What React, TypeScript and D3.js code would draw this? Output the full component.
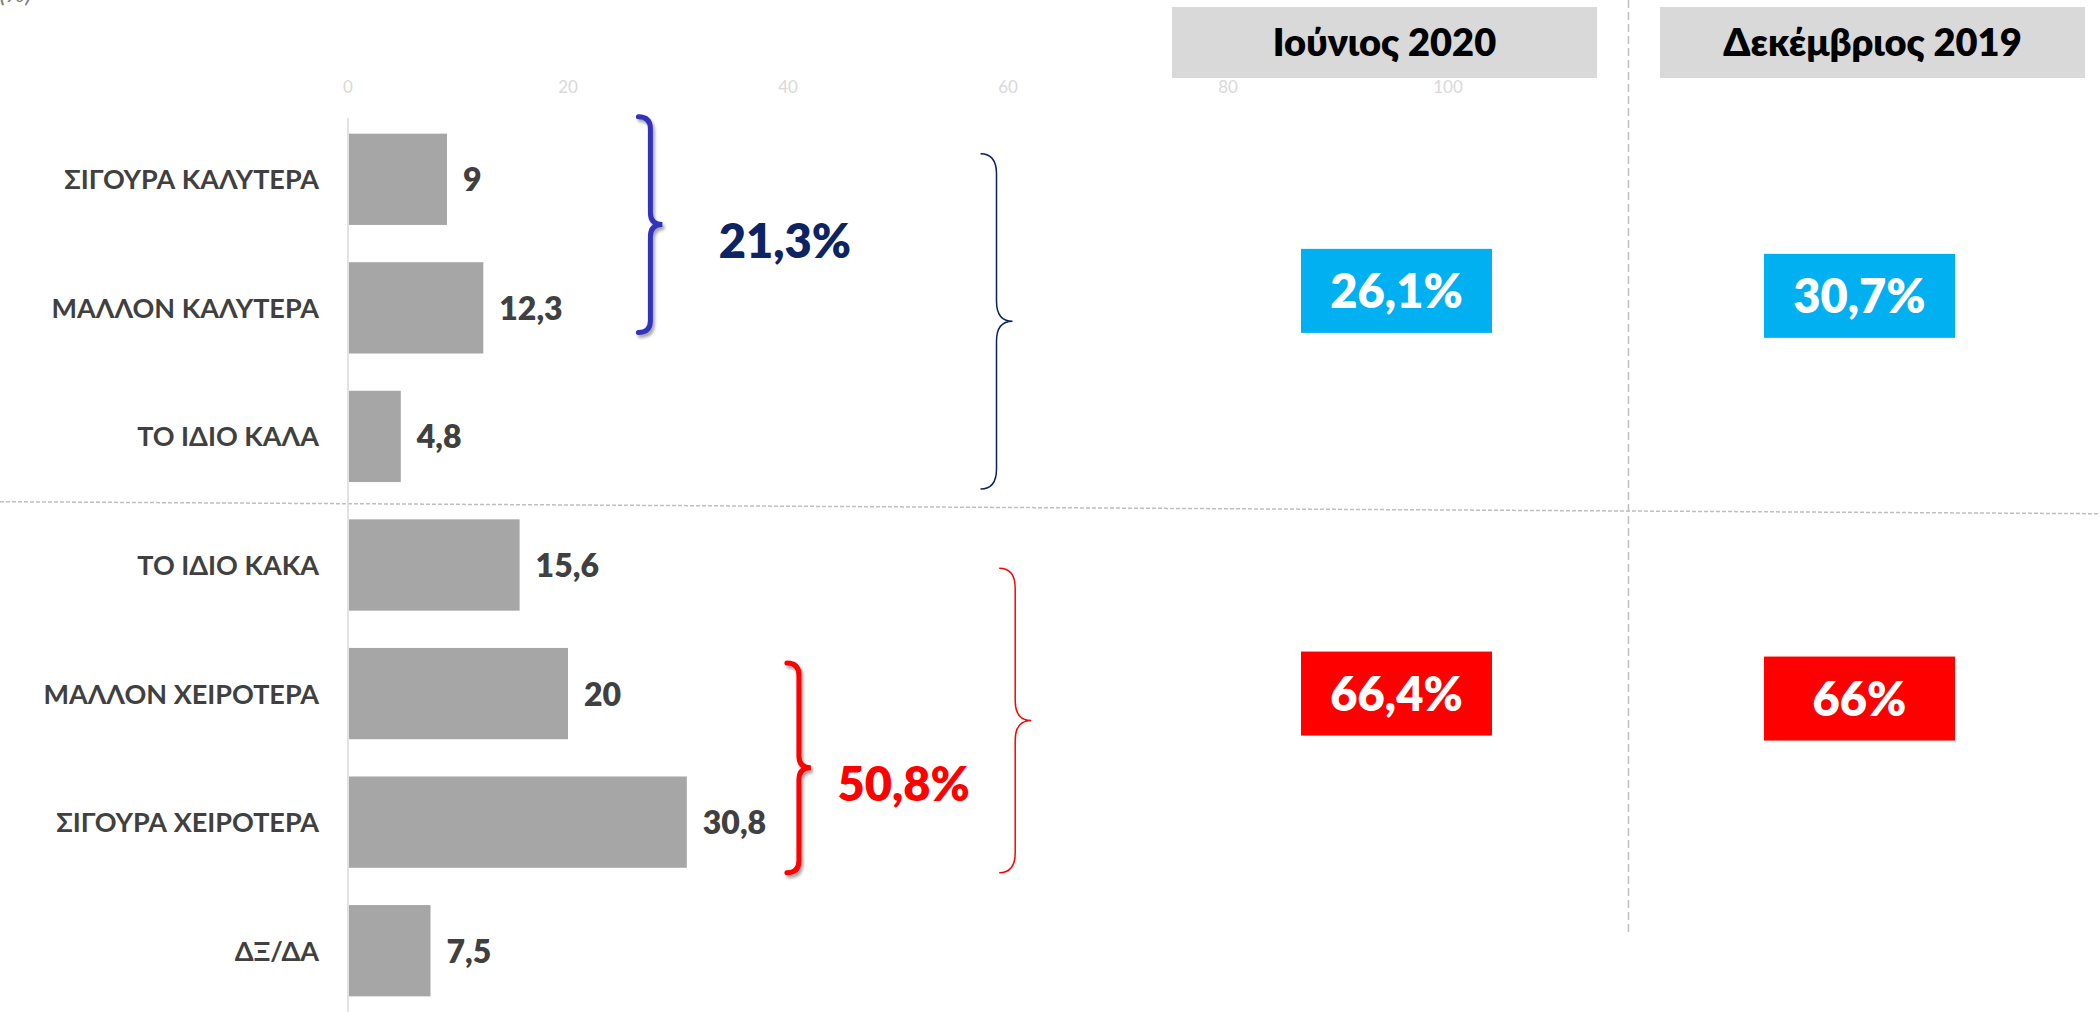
import React from 'react';
import { scaleBand, scaleLinear } from 'd3';

// survey answers, top to bottom
const categories = [
  'ΣΙΓΟΥΡΑ ΚΑΛΥΤΕΡΑ',
  'ΜΑΛΛΟΝ ΚΑΛΥΤΕΡΑ',
  'ΤΟ ΙΔΙΟ ΚΑΛΑ',
  'ΤΟ ΙΔΙΟ ΚΑΚΑ',
  'ΜΑΛΛΟΝ ΧΕΙΡΟΤΕΡΑ',
  'ΣΙΓΟΥΡΑ ΧΕΙΡΟΤΕΡΑ',
  'ΔΞ/ΔΑ',
];
const values = [9, 12.3, 4.8, 15.6, 20, 30.8, 7.5];
const xTicks = [0, 20, 40, 60, 80, 100];

// comparison columns on the right
const periods = ['Ιούνιος 2020', 'Δεκέμβριος 2019'];
const positiveTotals = [26.1, 30.7];
const negativeTotals = [66.4, 66];

// small braces with their sums, big braces around the halves
const innerTotals = [21.3, 50.8];
const innerFrom = [0, 4];
const innerTo = [1, 5];
const outerFrom = [0, 3];
const outerTo = [2, 5];

const W = 2100;
const H = 1012;
const FONT = 'Lato, "Open Sans", "Noto Sans", sans-serif';

const fmt = (v: number) => String(v).replace('.', ',');

// right-pointing curly brace, hooks on the left
const bracePath = (x0: number, y0: number, y1: number, w: number, r: number) => {
  const xs = x0 + w / 2;
  const xt = x0 + w;
  const m = (y0 + y1) / 2;
  return `M${x0},${y0} Q${xs},${y0} ${xs},${y0 + r} L${xs},${m - r} Q${xs},${m} ${xt},${m} ` +
    `Q${xs},${m} ${xs},${m + r} L${xs},${y1 - r} Q${xs},${y1} ${x0},${y1}`;
};

export default function App() {
  const x = scaleLinear().domain([0, 100]).range([348, 1448]);
  const y = scaleBand<string>()
    .domain(categories)
    .range([115, 1015])
    .paddingInner(0.29)
    .paddingOuter(0.145);
  const bw = y.bandwidth();
  const yTop = (i: number) => y(categories[i]) as number;
  const yBot = (i: number) => (y(categories[i]) as number) + bw;

  const col = scaleBand<string>().domain(periods).range([1172, 2085]).paddingInner(0.129);
  const cw = col.bandwidth();

  // annotation placement (axis units / px offsets)
  const innerX = [26.4, 39.9];
  const innerPad = [[-17, -21], [15, 5]];
  const innerColor = ['#3333bb', '#ff0000'];
  const innerText = ['#0d2463', '#ff0000'];
  const innerLabelX = [33.7, 44.5];
  const outerX = [57.5, 59.2];
  const outerPad = [[20, 7], [49, 5]];
  const outerColor = ['#0d1f5c', '#ff0000'];

  const sepY = (yBot(2) + yTop(3)) / 2;
  const boxW = 191;
  const boxH = 84;
  const boxDx = [12, -13];
  const boxDy = [0, 5];
  const posMid = (yTop(0) + yBot(2)) / 2 - 17;
  const negMid = (yTop(3) + yBot(5)) / 2;

  return (
    <svg
      width={W}
      height={H}
      style={{ position: 'absolute', left: 0, top: 0, display: 'block', background: '#fff' }}
      fontFamily={FONT}
    >
      <defs>
        <filter id="shadow" x="-50%" y="-10%" width="200%" height="120%">
          <feDropShadow dx="2" dy="3" stdDeviation="1.5" floodColor="#000" floodOpacity="0.35" />
        </filter>
      </defs>

      {/* clipped leftover from the slide title */}
      <text x={32} y={2} textAnchor="end" fontSize={26} fill="#7f7f7f" fontStyle="italic">(%)</text>

      {/* separators */}
      <line x1={0} y1={sepY + 1} x2={W} y2={sepY + 13} stroke="#bfbfbf" strokeWidth={1.5} strokeDasharray="4,2" />
      <line
        x1={col(periods[1])! - (col.step() - cw) / 2}
        x2={col(periods[1])! - (col.step() - cw) / 2}
        y1={0}
        y2={935}
        stroke="#bfbfbf"
        strokeWidth={1.5}
        strokeDasharray="8,4"
      />

      {/* x axis tick labels */}
      {xTicks.map((t) => (
        <text key={t} x={x(t)} y={93} textAnchor="middle" fontSize={17} fill="#d9d9d9">
          {t}
        </text>
      ))}

      {/* headers */}
      {periods.map((p) => (
        <g key={p}>
          <rect x={col(p)} y={7} width={cw} height={71} fill="#d9d9d9" />
          <text x={col(p)! + cw / 2} y={56} textAnchor="middle" fontSize={38} fontWeight={800} fill="#000">
            {p}
          </text>
        </g>
      ))}

      {/* bars */}
      <line x1={x(0)} x2={x(0)} y1={118} y2={H} stroke="#d9d9d9" strokeWidth={1.5} />
      {categories.map((c, i) => (
        <g key={c}>
          <rect x={x(0) + 1} y={y(c)} width={x(values[i]) - x(0) - 1} height={bw} fill="#a6a6a6" />
          <text x={319} y={y(c)! + bw / 2 + 10} textAnchor="end" fontSize={27} fontWeight={700} fill="#404040">
            {c}
          </text>
          <text x={x(values[i]) + 16} y={y(c)! + bw / 2 + 12} fontSize={32} fontWeight={800} fill="#404040">
            {fmt(values[i])}
          </text>
        </g>
      ))}

      {/* inner braces + totals */}
      {innerTotals.map((v, i) => {
        const y0 = yTop(innerFrom[i]) + innerPad[i][0];
        const y1 = yBot(innerTo[i]) + innerPad[i][1];
        return (
          <g key={'in' + i}>
            <path
              d={bracePath(x(innerX[i]), y0, y1, 24, 12)}
              fill="none"
              stroke={innerColor[i]}
              strokeWidth={5}
              strokeLinecap="round"
              filter="url(#shadow)"
            />
            <text x={x(innerLabelX[i])} y={(y0 + y1) / 2 + 33} fontSize={47} fontWeight={800} fill={innerText[i]}>
              {fmt(v)}%
            </text>
          </g>
        );
      })}

      {/* outer braces */}
      {outerFrom.map((f, i) => (
        <path
          key={'out' + i}
          d={bracePath(x(outerX[i]), yTop(f) + outerPad[i][0], yBot(outerTo[i]) + outerPad[i][1], 32, 20)}
          fill="none"
          stroke={outerColor[i]}
          strokeWidth={1.5}
        />
      ))}

      {/* period summary boxes */}
      {periods.map((p, i) => {
        const cx = col(p)! + cw / 2 + boxDx[i];
        return (
          <g key={'box' + p}>
            <rect x={cx - boxW / 2} y={posMid + boxDy[i] - boxH / 2} width={boxW} height={boxH} fill="#00b0f0" />
            <text x={cx} y={posMid + boxDy[i] + 17} textAnchor="middle" fontSize={47} fontWeight={800} fill="#fff">
              {fmt(positiveTotals[i])}%
            </text>
            <rect x={cx - boxW / 2} y={negMid + boxDy[i] - boxH / 2} width={boxW} height={boxH} fill="#ff0000" />
            <text x={cx} y={negMid + boxDy[i] + 17} textAnchor="middle" fontSize={47} fontWeight={800} fill="#fff">
              {fmt(negativeTotals[i])}%
            </text>
          </g>
        );
      })}
    </svg>
  );
}
